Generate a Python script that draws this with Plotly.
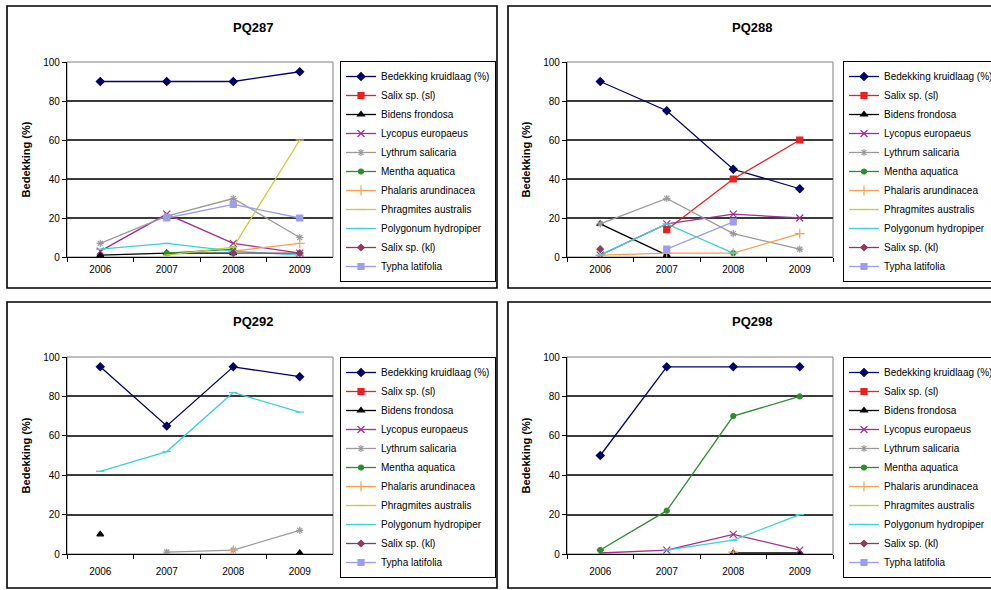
import plotly.graph_objects as go

# ---------------- data ----------------
years = ["2006", "2007", "2008", "2009"]
species = ["Bedekking kruidlaag (%)", "Salix sp. (sl)", "Bidens frondosa",
           "Lycopus europaeus", "Lythrum salicaria", "Mentha aquatica",
           "Phalaris arundinacea", "Phragmites australis",
           "Polygonum hydropiper", "Salix sp. (kl)", "Typha latifolia"]
panel_titles = ["PQ287", "PQ288", "PQ292", "PQ298"]
y_ticks = [0, 20, 40, 60, 80, 100]
N = None

# values per species (same order as `species`), one list per panel
pq287 = [
    [90, 90, 90, 95],
    [N, N, N, N],
    [1, 2, 2, N],
    [3, 22, 7, 2],
    [7, 21, 30, 10],
    [N, 2, 4, N],
    [N, N, 3, 7],
    [N, 1, 5, 60],
    [4, 7, 3, 1],
    [N, N, 2, 2],
    [N, 20, 27, 20],
]
pq288 = [
    [90, 75, 45, 35],
    [N, 14, 40, 60],
    [17, 1, N, N],
    [1, 17, 22, 20],
    [17, 30, 12, 4],
    [N, N, 2, N],
    [1, 2, 2, 12],
    [N, N, N, N],
    [1, 17, 2, N],
    [4, N, N, N],
    [N, 4, 18, N],
]
pq292 = [
    [95, 65, 95, 90],
    [N, N, N, N],
    [10, N, N, 0.5],
    [N, N, N, N],
    [N, 1, 2, 12],
    [N, N, N, N],
    [N, N, 2, N],
    [N, N, N, N],
    [42, 52, 82, 72],
    [N, N, N, N],
    [N, N, N, N],
]
pq298 = [
    [50, 95, 95, 95],
    [N, N, N, N],
    [N, N, 0.5, 0.5],
    [0.5, 2, 10, 2],
    [N, N, N, N],
    [2, 22, 70, 80],
    [N, N, 1, N],
    [N, N, N, N],
    [N, 2, 7, 20],
    [N, N, N, N],
    [N, N, N, N],
]
panels = [pq287, pq288, pq292, pq298]

# ---------------- styles ----------------
colors = ["#000066", "#E8201E", "#000000", "#A0308C", "#9A9A9A", "#2E8B2E",
          "#F7A050", "#C8CC3A", "#3CCFD6", "#8E3A60", "#9C9CF0"]
symbols = ["diamond", "square", "triangle-up", "x-thin-open", "asterisk-open",
           "circle", "cross-thin-open", "line-ew-open", "line-ew-open",
           "diamond", "square"]
msizes = [6, 6, 6, 7, 6, 5, 7, 6, 6, 5, 6]

W, H = 991, 590
def px(x):
    return x / W
def py(y):
    return 1 - y / H

# plot-area pixel boxes: (left, right, top(100), bottom(0))
boxes = [(67, 333, 62, 257), (567, 833, 62, 257),
         (67, 333, 357, 554), (567, 833, 357, 554)]
frames = [(7, 497, 6, 288), (508, 1010, 6, 288),
          (7, 497, 302, 588), (508, 1010, 302, 588)]
legend_pos = [(340, 61), (843, 61), (340, 357), (843, 357)]
title_pos = [(253, 27), (752, 27), (253, 322), (752, 322)]
label_standoff = [3, 3, 8, 8]

FONT = "Liberation Sans, Arial, sans-serif"

fig = go.Figure()
layout = dict(
    width=W, height=H,
    margin=dict(l=0, r=0, t=0, b=0, autoexpand=False),
    paper_bgcolor="white", plot_bgcolor="white",
    font=dict(family=FONT, size=10, color="#000"),
    showlegend=True,
)

shapes = []
annotations = []
for i, (data, box) in enumerate(zip(panels, boxes)):
    ax = "" if i == 0 else str(i + 1)
    lg = "legend" if i == 0 else f"legend{i + 1}"
    for k, name in enumerate(species):
        fig.add_trace(go.Scatter(
            x=years, y=data[k], name=name, mode="lines+markers",
            xaxis="x" + ax, yaxis="y" + ax, legend=lg,
            line=dict(color=colors[k], width=1.3),
            marker=dict(symbol=symbols[k], size=msizes[k], color=colors[k],
                        line=dict(color=colors[k], width=1.2)),
            hoverinfo="x+y+name",
        ))
    l, r, t, b = box
    layout["xaxis" + ax] = dict(
        domain=[px(l), px(r)], anchor="y" + ax, type="category",
        range=[-0.5, 3.5], tickson="boundaries", ticks="outside", ticklen=4,
        tickcolor="#000", showline=True, linecolor="#000", linewidth=1.3,
        showgrid=False, tickfont=dict(size=10, color="#000"),
        ticklabelstandoff=label_standoff[i],
        fixedrange=True,
    )
    layout["yaxis" + ax] = dict(
        domain=[py(b), py(t)], anchor="x" + ax, range=[0, 100],
        tickvals=y_ticks, ticks="outside", ticklen=4, tickcolor="#000",
        showline=True, linecolor="#000", linewidth=1.3,
        showgrid=True, gridcolor="#3a3a3a", gridwidth=1.5, zeroline=False,
        tickfont=dict(size=10, color="#000"),
        title=dict(text="<b>Bedekking (%)</b>", font=dict(size=11, color="#000"),
                   standoff=10),
        fixedrange=True,
    )
    lx, ly = legend_pos[i]
    layout[lg] = dict(
        x=px(lx), y=py(ly), xanchor="left", yanchor="top", xref="paper",
        yref="paper", bgcolor="white", bordercolor="#000", borderwidth=1,
        font=dict(size=10, color="#000", family=FONT), itemwidth=30,
        tracegroupgap=0, traceorder="normal",
    )
    # plot area border (grey)
    shapes.append(dict(type="rect", xref="paper", yref="paper",
                       x0=px(l), x1=px(r), y0=py(b), y1=py(t),
                       line=dict(color="#808080", width=1), layer="below"))
    # chart frame
    fl, fr, ft, fb = frames[i]
    shapes.append(dict(type="rect", xref="paper", yref="paper",
                       x0=px(fl), x1=px(fr), y0=py(fb), y1=py(ft),
                       line=dict(color="#000", width=1.6), layer="below"))
    tx, ty = title_pos[i]
    annotations.append(dict(text="<b>" + panel_titles[i] + "</b>",
                            x=px(tx), y=py(ty), xref="paper", yref="paper",
                            showarrow=False, font=dict(size=13, color="#000"),
                            xanchor="center", yanchor="middle"))

layout["shapes"] = shapes
layout["annotations"] = annotations
fig.update_layout(**layout)
fig.write_html("out.html", config={"displayModeBar": False},
               post_script="document.body.style.margin='0';")
